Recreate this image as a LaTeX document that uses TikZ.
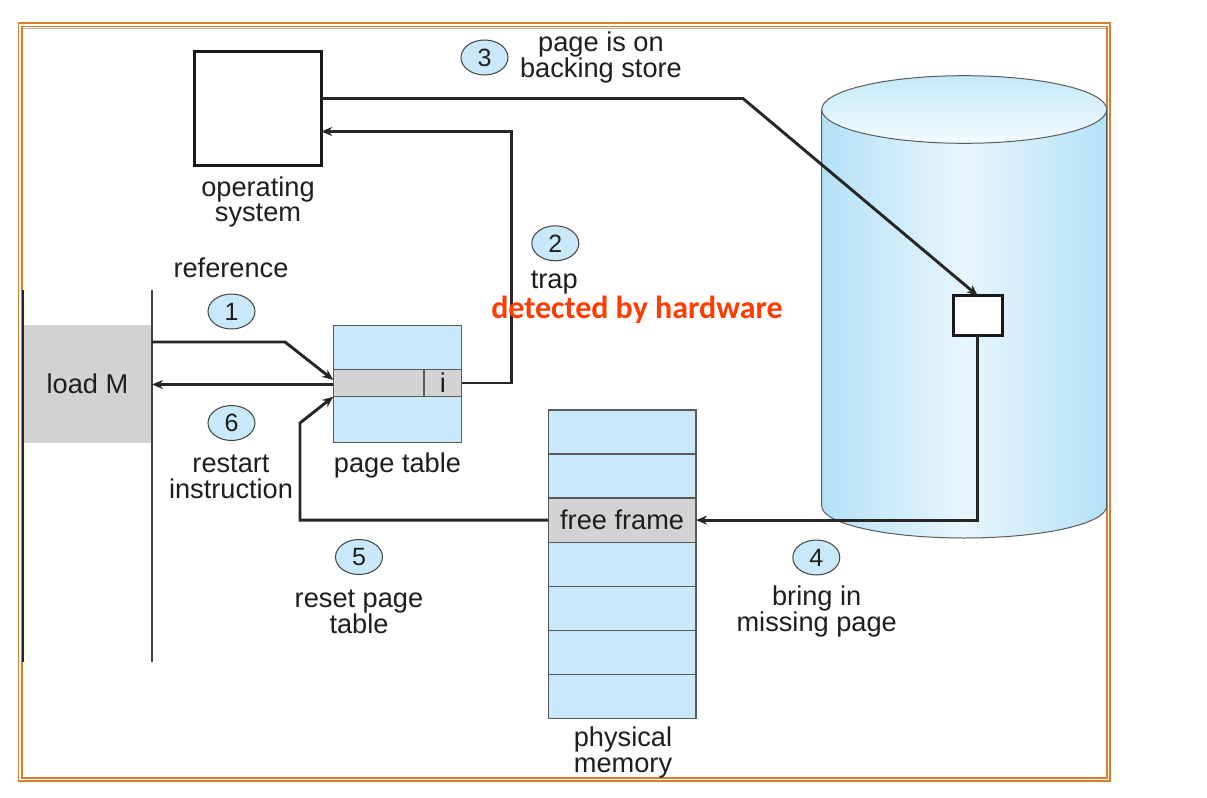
\documentclass[tikz,border=0pt]{standalone}
\usepackage{fontspec}
\setmainfont{Liberation Sans}
\newfontfamily\calib{Carlito}
\usetikzlibrary{shapes.geometric,arrows.meta}
\definecolor{lblue}{RGB}{201,233,250}
\definecolor{rowgray}{RGB}{211,211,211}
\definecolor{edgegray}{RGB}{90,90,90}
\definecolor{txt}{RGB}{30,30,30}
\definecolor{frameor}{RGB}{220,125,45}
\definecolor{cylE}{RGB}{180,225,247}
\definecolor{cylC}{RGB}{232,246,253}
\definecolor{cylT}{RGB}{195,233,250}
\definecolor{cylB}{RGB}{244,251,255}
\definecolor{hw}{RGB}{255,60,0}
\begin{document}
\begin{tikzpicture}[x=0.5pt,y=-0.5pt,
  every node/.style={inner sep=0pt, outer sep=0pt, text=txt, font=\fontsize{13.6}{12.8}\selectfont},
  lbl/.style={align=center},
  cellbox/.style={draw=edgegray, line width=0.6pt},
  conn/.style={draw=black!85, line width=1.45pt},
  arr/.style={conn, -{Stealth[length=5.5pt,width=4.5pt]}},
  num/.style={ellipse, draw=black!75, line width=0.5pt, fill=lblue, minimum width=23.5pt, minimum height=17.5pt, font=\fontsize{12.5}{12.5}\selectfont},
  thickbox/.style={draw=black!90, line width=1.5pt, fill=white},
]
\useasboundingbox (0,0) rectangle (1207,798);
\fill[white] (0,0) rectangle (1207,798);
% frame
\draw[frameor, line width=0.8pt] (18.5,23) rectangle (1110,781);
\draw[frameor, line width=0.8pt] (21.8,26.3) rectangle (1106.8,777.7);
\draw[gray!60, line width=0.4pt] (23,28.6) -- (1106,28.6);
% cylinder (backing store)
\shade[left color=cylE, right color=cylE, middle color=cylC]
  (821.7,110) -- (821.7,506) arc[start angle=180, end angle=0, x radius=142.5, y radius=32] -- (1106.7,110) -- cycle;
\draw[edgegray, line width=0.5pt]
  (821.7,110) -- (821.7,506) arc[start angle=180, end angle=0, x radius=142.5, y radius=32] -- (1106.7,110);
\shade[top color=cylT, bottom color=cylB] (964.2,109.5) ellipse [x radius=142.5, y radius=33.8];
\draw[edgegray, line width=0.5pt] (964.2,109.5) ellipse [x radius=142.5, y radius=33.8];
% program (load M)
\node[fill=rowgray, minimum width=64.5pt, minimum height=59pt] (loadM) at (87.5,384) {load M};
\draw[black!85, line width=0.8pt] (23,290) -- (23,662);
\draw[black!75, line width=0.6pt] (152,290) -- (152,662);
% operating system
\node[thickbox, minimum width=63.5pt, minimum height=57.2pt] (os) at (257.7,108.7) {};
\node[lbl] (osl) at (258,202) {operating\\system};
% page table
\node[cellbox, fill=lblue, minimum width=64.2pt, minimum height=58.8pt] (pt) at (397.5,384) {};
\node[cellbox, fill=rowgray, minimum width=64.2pt, minimum height=13.7pt] (ptrow) at (397.5,383) {};
\node[cellbox, minimum width=18.85pt, minimum height=13.7pt] (icell) at (442.85,383) {i};
\node (ptl) at (397.5,465.5) {page table};
% physical memory
\foreach \i in {0,...,6}
  \node[cellbox, fill=lblue, minimum width=73.85pt, minimum height=22.02pt] (pm\i) at (622.15,{432.02+44.04*\i}) {};
\node[cellbox, fill=rowgray, minimum width=73.85pt, minimum height=22.02pt] (ff) at (622.15,520.1) {free frame};
\node[lbl] (pml) at (623,752.5) {physical\\memory};
% page on backing store
\node[thickbox, minimum width=24.6pt, minimum height=19.7pt] (sq) at (977.85,315.5) {};
% connectors
\draw[arr] (loadM.east |- 0,342) -- (285,342) -- (ptrow.west |- 0,380);
\draw[arr] (ptrow.west |- 0,384.5) -- (loadM.east |- 0,384.5);
\draw[arr] (icell.east) -- (511.5,383) |- (os.east |- 0,131.5);
\draw[arr] (os.east |- 0,98.5) -- (743,98.5) -- (sq.north);
\draw[arr] (sq.south) |- (ff.east);
\draw[arr] (ff.west) -| (300,423) -- (ptrow.south west);
% step markers
\node[num] (n1) at (231.5,311.5) {1};
\node[num] (n2) at (555.3,243.3) {2};
\node[num] (n3) at (484.5,57.5) {3};
\node[num] (n4) at (816.3,557.5) {4};
\node[num] (n5) at (359,557) {5};
\node[num] (n6) at (231.5,423) {6};
% labels
\node (refl) at (231,268) {reference};
\node (trapl) at (554.2,283) {trap};
\node[text=hw, font=\calib\bfseries\fontsize{16}{16}\selectfont] (hwl) at (637,310) {detected by hardware};
\node[lbl] (l3) at (601,57.5) {page is on\\backing store};
\node[lbl] (l6) at (231,477) {restart\\instruction};
\node[lbl] (l5) at (359,612) {reset page\\table};
\node[lbl] (l4) at (816.7,611.5) {bring in\\missing page};
\end{tikzpicture}
\end{document}
